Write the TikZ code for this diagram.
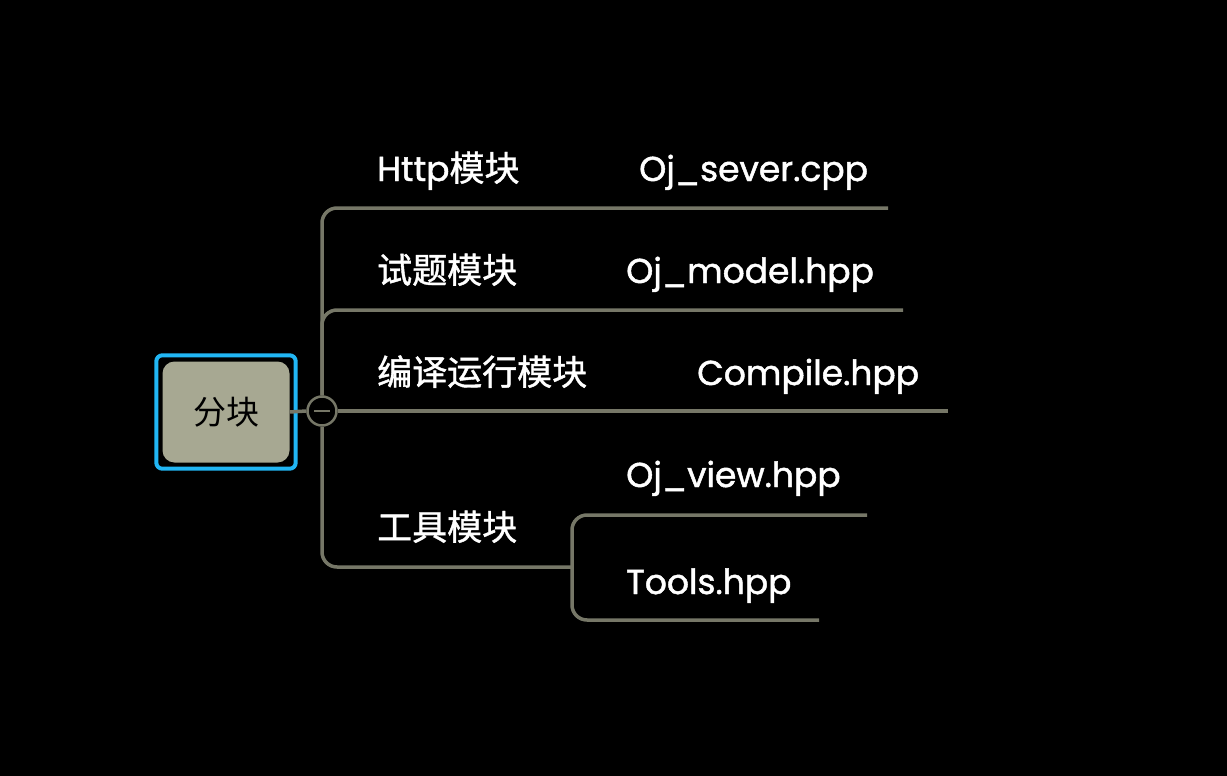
\documentclass[tikz,border=0pt]{standalone}
\usepackage{fontspec}
\setmainfont{Poppins}[BoldFont=Poppins, BoldFeatures={FakeBold=1.4}]
\newfontfamily\cjk{Noto Sans CJK SC}[BoldFont={Noto Sans CJK SC}, BoldFeatures={FakeBold=1.2}]
\usepackage{tikz}
\usetikzlibrary{positioning, calc}
\usepackage{xcolor}
\definecolor{branchgray}{RGB}{118,119,103}
\definecolor{rootfill}{RGB}{167,168,146}
\definecolor{selblue}{RGB}{33,182,244}

\newcommand{\zh}[1]{{\cjk\fontsize{35}{38}\selectfont #1}}

\begin{document}
\begin{tikzpicture}[x=1pt, y=-1pt,
    branch/.style={draw=branchgray, line width=3.5pt, rounded corners=15pt},
    label/.style={anchor=base west, inner sep=0pt, text=white, font=\fontsize{34.5}{38}\selectfont\bfseries},
    rootbox/.style={fill=rootfill, rounded corners=12pt, minimum width=127pt, minimum height=101pt,
      inner sep=0pt, font=\fontsize{33}{36}\selectfont\cjk}]
        % Background
        \fill[black] (0,0) rectangle (1227,776);
        % Root node with selection frame
        \node[rootbox] (root) at (226,412) {分块};
        \draw[selblue, line width=4pt, rounded corners=6pt]
          ($(root.south west)+(-6,6)$) rectangle ($(root.north east)+(6,-6)$);
        % Collapse knob
        \node[circle, draw=branchgray, line width=2.5pt, fill=black, minimum size=29pt, inner sep=0pt] (knob) at (322,411) {};
        \draw[branchgray, line width=2pt] ($(knob.center)+(-8,0)$) -- ($(knob.center)+(8,0)$);
        % Branch ends
        \coordinate (httpend) at (888,208);
        \coordinate (testend) at (903,310);
        \coordinate (compend) at (948,411);
        \coordinate (toolfork) at (572,567);
        \coordinate (viewend) at (867,515);
        \coordinate (toolsend) at (819,620);
        % Main branches
        \draw[branch] (root.east) -- (knob.west);
        \draw[branch] (knob.north) |- (httpend);
        \draw[branch] (knob.north) |- (testend);
        \draw[branch] (knob.east) -- (compend);
        \draw[branch] (knob.south) |- (toolfork);
        % Sub branches of the tool module
        \draw[branch] (toolfork) |- (viewend);
        \draw[branch] (toolfork) |- (toolsend);
        % Labels
        \node[label] (http) at (377,181) {Http\zh{模块}};
        \node[label] (httpfile) at (639,181) {Oj\_sever.cpp};
        \node[label] (test) at (377,283) {\zh{试题模块}};
        \node[label] (testfile) at (626,283) {Oj\_model.hpp};
        \node[label] (comp) at (377,385) {\zh{编译运行模块}};
        \node[label] (compfile) at (697,385) {Compile.hpp};
        \node[label] (tool) at (377,540) {\zh{工具模块}};
        \node[label] (viewfile) at (626,487) {Oj\_view.hpp};
        \node[label] (toolsfile) at (626,594) {Tools.hpp};
      \end{tikzpicture}
\end{document}
